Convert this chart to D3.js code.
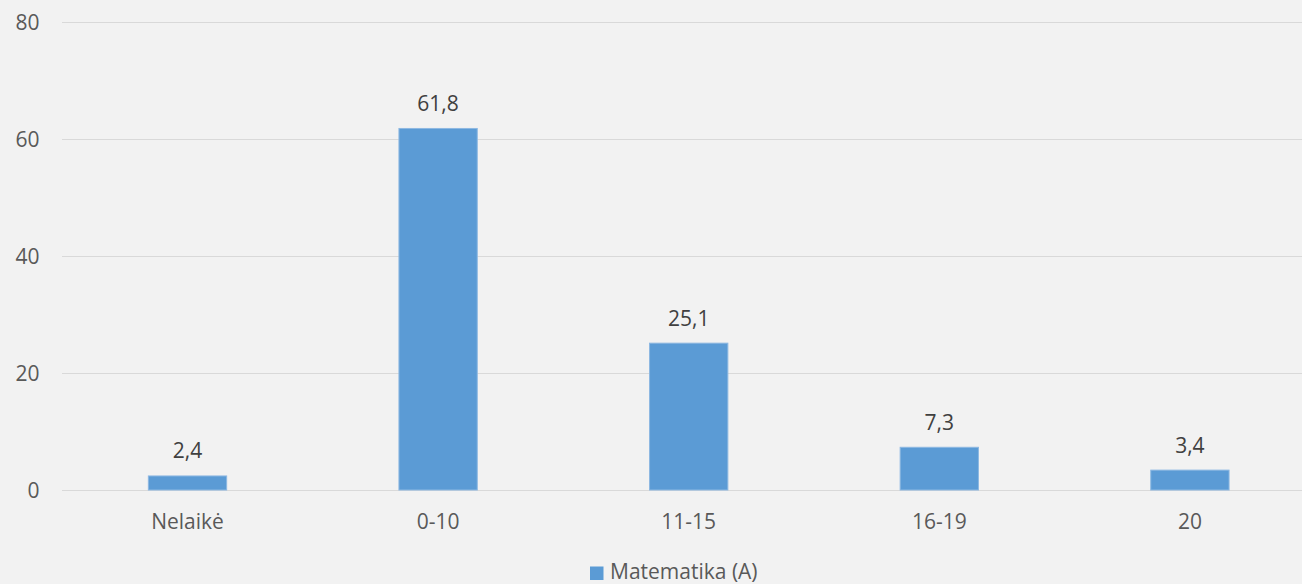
<!DOCTYPE html>
<html>
<head>
<meta charset="utf-8">
<script src="https://cdn.jsdelivr.net/npm/d3@7"></script>
<style>
  html, body { margin: 0; padding: 0; background: #f2f2f2; }
  svg { display: block; }
  text { font-family: "Open Sans", "Noto Sans", sans-serif; }
</style>
</head>
<body>
<svg id="chart" width="1302" height="584"></svg>
<script>
const categories = ["Nelaikė", "0-10", "11-15", "16-19", "20"];
const values = [2.4, 61.8, 25.1, 7.3, 3.4];
const yTicks = [0, 20, 40, 60, 80];
const seriesName = "Matematika (A)";

const W = 1302, H = 584;
const svg = d3.select("#chart");
svg.append("rect").attr("width", W).attr("height", H).attr("fill", "#f2f2f2");

const x = d3.scaleBand()
  .domain(categories)
  .range([62.2, 1315.2])
  .paddingInner(0.6875)
  .paddingOuter(0.34375);

const y = d3.scaleLinear().domain([0, 80]).range([490, 22]);

// gridlines
svg.append("g")
  .selectAll("line")
  .data(yTicks)
  .join("line")
  .attr("x1", 62).attr("x2", W)
  .attr("y1", d => Math.round(y(d)) + 0.5)
  .attr("y2", d => Math.round(y(d)) + 0.5)
  .attr("stroke", "#d9d9d9")
  .attr("stroke-width", 1.2);

// y tick labels
svg.append("g")
  .selectAll("text")
  .data(yTicks)
  .join("text")
  .attr("x", 39.5)
  .attr("y", d => y(d) + 7.5)
  .attr("text-anchor", "end")
  .attr("font-size", 21)
  .attr("fill", "#595959")
  .text(d => d);

// bars
svg.append("g")
  .selectAll("rect")
  .data(values)
  .join("rect")
  .attr("x", (d, i) => x(categories[i]))
  .attr("width", x.bandwidth())
  .attr("y", d => y(d))
  .attr("height", d => y(0) - y(d))
  .attr("fill", "#5b9bd5")
  .attr("stroke", "#8db8e2")
  .attr("stroke-width", 1);

// value labels
const fmt = v => String(v).replace(".", ",");
svg.append("g")
  .selectAll("text")
  .data(values)
  .join("text")
  .attr("x", (d, i) => x(categories[i]) + x.bandwidth() / 2)
  .attr("y", d => y(d) - 17.5)
  .attr("text-anchor", "middle")
  .attr("font-size", 21)
  .attr("fill", "#404040")
  .text(d => fmt(d));

// category labels
svg.append("g")
  .selectAll("text")
  .data(categories)
  .join("text")
  .attr("x", d => x(d) + x.bandwidth() / 2)
  .attr("y", 529)
  .attr("text-anchor", "middle")
  .attr("font-size", 21)
  .attr("fill", "#595959")
  .text(d => d);

// legend
const lg = svg.append("g");
lg.append("rect")
  .attr("x", 590).attr("y", 566.5)
  .attr("width", 13.5).attr("height", 13.5)
  .attr("fill", "#5b9bd5");
lg.append("text")
  .attr("x", 610)
  .attr("y", 579)
  .attr("font-size", 21)
  .attr("fill", "#595959")
  .text(seriesName);
</script>
</body>
</html>
